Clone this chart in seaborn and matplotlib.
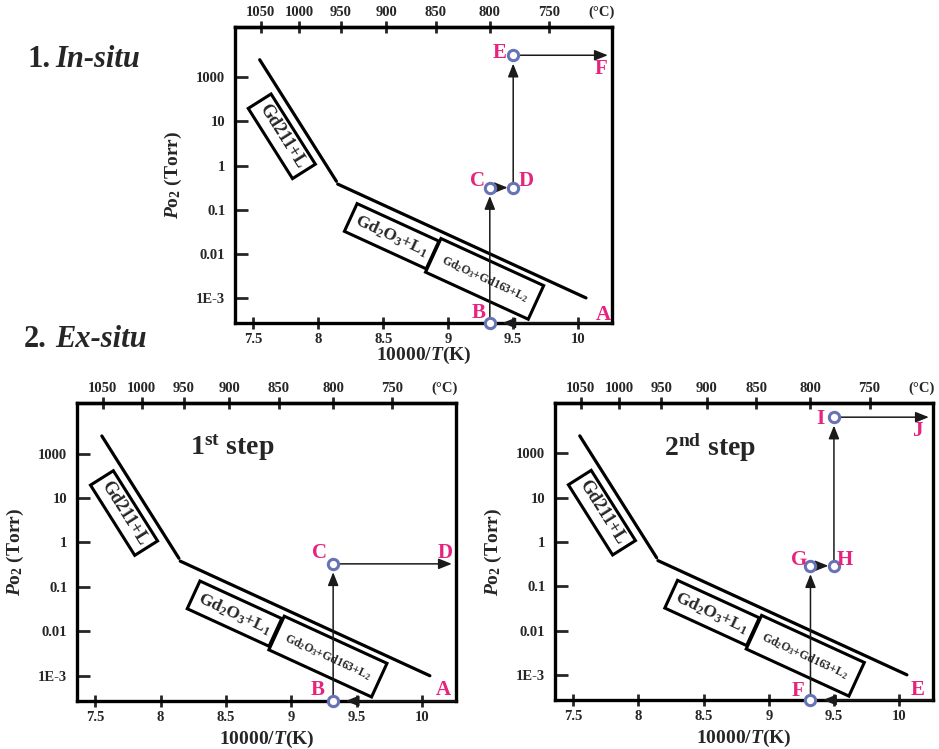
import numpy as np
import pandas as pd
import matplotlib
matplotlib.use("Agg")
import matplotlib.pyplot as plt
import matplotlib.transforms as mtransforms
from matplotlib.patches import Rectangle
from matplotlib.ticker import NullLocator
import seaborn as sns

# ---------------- data ----------------
x_min, x_max = 7.36, 10.26          # 10000/T(K)
p_min, p_max = 2.7e-4, 1.38e3       # Po2 axis (tick positions as drawn)

kelvin_ticks = [7.5, 8, 8.5, 9, 9.5, 10]
kelvin_tick_labels = ["7.5", "8", "8.5", "9", "9.5", "10"]
celsius_ticks = [1050, 1000, 950, 900, 850, 800, 750]
p_ticks = [1e-3, 1e-2, 1e-1, 1, 10, 100]
p_tick_labels = ["1E-3", "0.01", "0.1", "1", "10", "1000"]

# phase boundary (two straight segments)
boundary1_x = [7.55, 8.14]
boundary1_p = [250.0, 0.44]
boundary2_x = [8.15, 10.06]
boundary2_p = [0.38, 1.0e-3]

# phase-field labels
phase_names = ["Gd211+L", r"Gd$_2$O$_3$+L$_1$", r"Gd$_2$O$_3$+Gd163+L$_2$"]
phase_x = [7.72, 8.565, 9.28]
phase_p = [4.6, 0.025, 0.0027]
phase_segment = [0, 1, 1]

# process paths
insitu_x = [10.26, 9.32, 9.32, 9.50, 9.50, 10.26]
insitu_p = [2.7e-4, 2.7e-4, 0.316, 0.316, 316.0, 316.0]
insitu_names = ["A", "B", "C", "D", "E", "F"]
insitu_marked = [False, True, True, True, True, False]

step1_x = [10.26, 9.32, 9.32, 10.26]
step1_p = [2.7e-4, 2.7e-4, 0.33, 0.33]
step1_names = ["A", "B", "C", "D"]
step1_marked = [False, True, True, False]

step2_x = [10.26, 9.32, 9.32, 9.50, 9.50, 10.26]
step2_p = [2.7e-4, 2.7e-4, 0.29, 0.29, 660.0, 660.0]
step2_names = ["E", "F", "G", "H", "I", "J"]
step2_marked = [False, True, True, True, True, False]

# ---------------- style ----------------
sns.set_theme(style="ticks")
plt.rcParams.update({
    "font.family": ["Liberation Serif", "DejaVu Serif"],
    "font.weight": "bold",
    "axes.labelweight": "bold",
    "mathtext.fontset": "custom",
    "mathtext.rm": "Liberation Serif:bold",
    "mathtext.it": "Liberation Serif:italic:bold",
    "mathtext.bf": "Liberation Serif:bold",
    "axes.linewidth": 2.4,
    "axes.edgecolor": "black",
    "axes.facecolor": "white",
    "figure.facecolor": "white",
})

PINK = "#e6237d"
BLUE = "#6773b4"
ARROW = "#1a1a1a"
box_sizes_px = [(83, 27), (90, 30.5), (113, 37)]
box_fontsizes = [13, 12.5, 8.5]

W, H = 939, 749
fig = plt.figure(figsize=(W / 100, H / 100), dpi=100)


def px_axes(l, t, r, b):
    return fig.add_axes([l / W, 1 - b / H, (r - l) / W, (b - t) / H])


def k2c(x):
    with np.errstate(divide="ignore", invalid="ignore"):
        return 10000.0 / np.asarray(x, dtype=float) - 273.15


def c2k(c):
    with np.errstate(divide="ignore", invalid="ignore"):
        return 10000.0 / (np.asarray(c, dtype=float) + 273.15)


def draw_panel(ax, px, pp, names, marked, offsets, step_text=None, xlabel_y=-0.094):
    ax.set_yscale("log")
    seg1 = pd.DataFrame({"x": boundary1_x, "p": boundary1_p})
    seg2 = pd.DataFrame({"x": boundary2_x, "p": boundary2_p})
    for seg in (seg1, seg2):
        sns.lineplot(data=seg, x="x", y="p", ax=ax, color="black", lw=2.3,
                     estimator=None, sort=False, zorder=3)
    ax.set_xlim(x_min, x_max)
    ax.set_ylim(p_min, p_max)

    # ticks
    ax.set_xticks(kelvin_ticks)
    ax.set_xticklabels(kelvin_tick_labels)
    ax.set_yticks(p_ticks)
    ax.set_yticklabels(p_tick_labels)
    ax.yaxis.set_minor_locator(NullLocator())
    ax.xaxis.set_minor_locator(NullLocator())
    ax.tick_params(axis="x", direction="inout", length=8, width=2, labelsize=10.5, pad=3,
                   top=False)
    ax.tick_params(axis="y", direction="in", length=9, width=2, labelsize=10.5, pad=7)
    for sp in ax.spines.values():
        sp.set_visible(True)
        sp.set_linewidth(2.4)

    sec = ax.secondary_xaxis("top", functions=(k2c, c2k))
    sec.set_xticks(celsius_ticks)
    sec.set_xticklabels([str(c) for c in celsius_ticks])
    sec.xaxis.set_minor_locator(NullLocator())
    sec.tick_params(axis="x", direction="inout", length=8, width=2, labelsize=10.5, pad=2)
    sec.spines["top"].set_linewidth(2.4)
    ax.annotate("(°C)", xy=(0.971, 1.0), xycoords="axes fraction", xytext=(0, 5.5),
                textcoords="offset points", ha="center", va="bottom", fontsize=10.5)

    ax.set_xlabel(r"10000/$T$(K)", fontsize=14)
    ax.xaxis.set_label_coords(0.53, xlabel_y)
    ax.set_ylabel(r"$P$o$_2$ (Torr)", fontsize=14)
    ax.yaxis.set_label_coords(-0.135, 0.44)

    # angles of boundary segments in display space
    seg_angles = []
    for bx, bp in ((boundary1_x, boundary1_p), (boundary2_x, boundary2_p)):
        d0 = ax.transData.transform((bx[0], bp[0]))
        d1 = ax.transData.transform((bx[1], bp[1]))
        seg_angles.append(np.degrees(np.arctan2(d1[1] - d0[1], d1[0] - d0[0])))

    for name, x, p, si, (wpx, hpx), fs in zip(phase_names, phase_x, phase_p, phase_segment,
                                              box_sizes_px, box_fontsizes):
        ang = seg_angles[si]
        tr = (mtransforms.Affine2D().rotate_deg(ang) + fig.dpi_scale_trans
              + mtransforms.ScaledTranslation(x, p, ax.transData))
        rect = Rectangle((-wpx / 200, -hpx / 200), wpx / 100, hpx / 100, transform=tr,
                         fill=False, edgecolor="black", lw=2.2, zorder=3, clip_on=False)
        ax.add_artist(rect)
        ax.text(x, p, name, rotation=ang, rotation_mode="anchor", ha="center", va="center",
                fontsize=fs, zorder=3)

    # arrows
    for i in range(len(px) - 1):
        x0, y0, x1, y1 = px[i], pp[i], px[i + 1], pp[i + 1]
        sA = 4 if marked[i] else 0
        if marked[i + 1]:
            if not marked[i]:
                sB = 9
            elif x0 == x1:
                sB = 6
            else:
                sB = 4
        else:
            sB = 3
        ax.annotate("", xy=(x1, y1), xytext=(x0, y0), xycoords="data", textcoords="data",
                    arrowprops=dict(arrowstyle="-|>,head_length=0.8,head_width=0.32",
                                    color=ARROW, lw=1.1, shrinkA=sA, shrinkB=sB,
                                    mutation_scale=10),
                    annotation_clip=False, zorder=4)

    # markers
    mdf = pd.DataFrame({"x": [x for x, m in zip(px, marked) if m],
                        "p": [p for p, m in zip(pp, marked) if m]})
    sns.scatterplot(data=mdf, x="x", y="p", ax=ax, s=55, marker="o", color="white",
                    edgecolor=BLUE, linewidth=2.2, zorder=6, clip_on=False)

    # point labels
    for name, x, p, off in zip(names, px, pp, offsets):
        ax.annotate(name, xy=(x, p), xytext=off, textcoords="offset points", ha="center",
                    va="center", color=PINK, fontsize=15, annotation_clip=False, zorder=7)

    if step_text:
        ax.text(0.41, 0.85, step_text, transform=ax.transAxes, fontsize=20, ha="center",
                va="center")

    ax.set_xlim(x_min, x_max)
    ax.set_ylim(p_min, p_max)
    ax.set_xlabel(r"10000/$T$(K)", fontsize=14)
    ax.set_ylabel(r"$P$o$_2$ (Torr)", fontsize=14)


ax_top = px_axes(235, 27, 612, 323)
ax_bl = px_axes(77, 403, 456, 701)
ax_br = px_axes(555, 403, 933, 700)

draw_panel(ax_top, insitu_x, insitu_p, insitu_names, insitu_marked,
           [(-6.5, 6), (-8, 7), (-9, 4.5), (9, 4.5), (-9.5, 1.5), (-8, -10)],
           xlabel_y=-0.075)
draw_panel(ax_bl, step1_x, step1_p, step1_names, step1_marked,
           [(-9, 8), (-11, 8), (-10, 8), (-8, 8)],
           step_text=r"1$^{\mathrm{st}}$ step")
draw_panel(ax_br, step2_x, step2_p, step2_names, step2_marked,
           [(-11, 7), (-9, 6.5), (-8, 4.5), (8, 4.5), (-10, -1.5), (-11, -10)],
           step_text=r"2$^{\mathrm{nd}}$ step")

# section titles
fig.text(27 / W, 1 - 67 / H, "1.", fontsize=22, ha="left", va="baseline")
fig.text(55 / W, 1 - 67 / H, "In-situ", fontsize=22, style="italic", ha="left", va="baseline")
fig.text(24 / W, 1 - 347 / H, "2.", fontsize=22, ha="left", va="baseline")
fig.text(55 / W, 1 - 347 / H, "Ex-situ", fontsize=22, style="italic", ha="left", va="baseline")

fig.savefig("out.png", dpi=100)
